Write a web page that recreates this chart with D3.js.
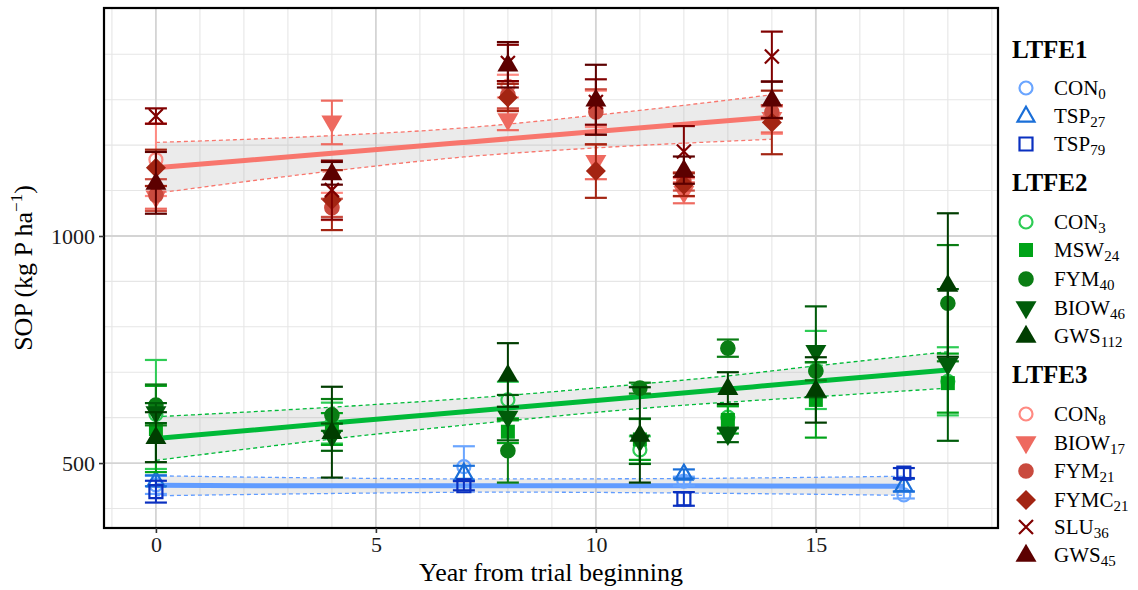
<!DOCTYPE html>
<html><head><meta charset="utf-8">
<script src="https://cdn.jsdelivr.net/npm/d3@7"></script>
<style>body{margin:0;background:#fff}svg{display:block}</style>
</head><body><svg id="c" width="1138" height="590"></svg>
<script>
// ---------------- DATA ----------------
const xTicks = [0, 5, 10, 15];
const yTicks = [500, 1000];
const groupTitles = ["LTFE1", "LTFE2", "LTFE3"];

// LTFE1
const ltfe1Years = [0, 7, 12, 17];
const con0Mean = [452, 492, 460, 430], con0Err = [20, 45, 10, 8];
const tsp27Mean = [461, 478, 476, 451], tsp27Err = [12, 16, 10, 14];
const tsp79Mean = [437, 450, 421, 478], tsp79Err = [24, 10, 15, 11];

// LTFE2
const ltfe2Years = [0, 4, 8, 11, 13, 15, 18];
const con3Mean = [607, 588, 639, 529, 601, 705, 680], con3Err = [120, 45, 40, 30, 25, 86, 75];
const msw24Mean = [575, 575, 569, 552, 595, 639, 676], msw24Err = [95, 35, 25, 45, 30, 83, 65];
const fym40Mean = [628, 606, 527, 665, 753, 702, 852], fym40Err = [45, 35, 70, 12, 19, 20, 128];
const biow46Mean = [610, 557, 600, 548, 562, 745, 716], biow46Err = [22, 30, 50, 50, 16, 100, 167];
const gws112Mean = [557, 568, 694, 562, 665, 661, 892], gws112Err = [55, 100, 70, 105, 35, 72, 158];

// LTFE3
const ltfe3Years = [0, 4, 8, 10, 12, 14];
const con8Mean = [1168, 1065, 1330, 1280, 1107, 1255], con8Err = [80, 30, 25, 40, 20, 30];
const biow17Mean = [1085, 1250, 1255, 1163, 1095, 1258], biow17Err = [25, 48, 22, 38, 23, 30];
const fym21Mean = [1090, 1062, 1311, 1273, 1120, 1273], fym21Err = [35, 20, 30, 50, 20, 15];
const fymc21Mean = [1150, 1079, 1305, 1143, 1113, 1250], fymc21Err = [40, 66, 30, 59, 25, 70];
const slu36Mean = [1264, 1101, 1381, 1295, 1186, 1395], slu36Err = [17, 65, 40, 50, 56, 55];
const gws45Mean = [1117, 1138, 1377, 1300, 1145, 1300], gws45Err = [68, 25, 50, 77, 30, 40];

// fitted trends with confidence band
const fit1Years = [0, 4, 8, 12, 17];
const fit1Line = [451, 450, 450, 450, 449];
const fit1Lo = [428, 433, 436, 434, 429];
const fit1Hi = [472, 467, 465, 466, 471];

const fit2Years = [0, 4, 8, 11, 13, 15, 18];
const fit2Line = [554, 588, 621, 646, 663, 680, 705];
const fit2Lo = [506, 553, 593, 620, 634, 646, 665];
const fit2Hi = [602, 623, 649, 674, 692, 714, 745];

const fit3Years = [0, 4, 7, 10, 14];
const fit3Line = [1150, 1182, 1206, 1230, 1262];
const fit3Lo = [1094, 1143, 1174, 1194, 1213];
const fit3Hi = [1206, 1221, 1238, 1266, 1311];

// ---------------- TABLES ----------------
const treatments = [
  {g:0, name:"CON", sub:"0", shape:"circleOpen", color:"#6aa5ff", years:ltfe1Years, mean:con0Mean, err:con0Err},
  {g:0, name:"TSP", sub:"27", shape:"triOpen", color:"#1a6fd8", years:ltfe1Years, mean:tsp27Mean, err:tsp27Err},
  {g:0, name:"TSP", sub:"79", shape:"squareOpen", color:"#0a30c0", years:ltfe1Years, mean:tsp79Mean, err:tsp79Err},
  {g:1, name:"CON", sub:"3", shape:"circleOpen", color:"#2ecc55", years:ltfe2Years, mean:con3Mean, err:con3Err},
  {g:1, name:"MSW", sub:"24", shape:"square", color:"#00a318", years:ltfe2Years, mean:msw24Mean, err:msw24Err},
  {g:1, name:"FYM", sub:"40", shape:"circle", color:"#0a7d14", years:ltfe2Years, mean:fym40Mean, err:fym40Err},
  {g:1, name:"BIOW", sub:"46", shape:"triDown", color:"#005c0a", years:ltfe2Years, mean:biow46Mean, err:biow46Err},
  {g:1, name:"GWS", sub:"112", shape:"triUp", color:"#003d00", years:ltfe2Years, mean:gws112Mean, err:gws112Err},
  {g:2, name:"CON", sub:"8", shape:"circleOpen", color:"#ff8a82", years:ltfe3Years, mean:con8Mean, err:con8Err},
  {g:2, name:"BIOW", sub:"17", shape:"triDown", color:"#ee6a60", years:ltfe3Years, mean:biow17Mean, err:biow17Err},
  {g:2, name:"FYM", sub:"21", shape:"circle", color:"#c94a3e", years:ltfe3Years, mean:fym21Mean, err:fym21Err},
  {g:2, name:"FYMC", sub:"21", shape:"diamond", color:"#a32412", years:ltfe3Years, mean:fymc21Mean, err:fymc21Err},
  {g:2, name:"SLU", sub:"36", shape:"cross", color:"#800000", years:ltfe3Years, mean:slu36Mean, err:slu36Err},
  {g:2, name:"GWS", sub:"45", shape:"triUp", color:"#5c0000", years:ltfe3Years, mean:gws45Mean, err:gws45Err}
];
const fits = [
  {color:"#619CFF", years:fit1Years, line:fit1Line, lo:fit1Lo, hi:fit1Hi},
  {color:"#00BA38", years:fit2Years, line:fit2Line, lo:fit2Lo, hi:fit2Hi},
  {color:"#F8766D", years:fit3Years, line:fit3Line, lo:fit3Lo, hi:fit3Hi}
];

// ---------------- LAYOUT ----------------
const L = 104, R = 998, T = 8, B = 528;
const FONT = "'Liberation Serif','Times New Roman',serif";
const svg = d3.select("#c");
const x = d3.scaleLinear().domain([-1.18, 19.14]).range([L, R]);
const y = d3.scaleLinear().domain([357, 1502]).range([B, T]);

// grid
const gGrid = svg.append("g");
const xMinor = d3.range(-1, 20).filter(v => !xTicks.includes(v));
const yMinor = d3.range(400, 1500, 100).filter(v => !yTicks.includes(v));
gGrid.selectAll(".xm").data(xMinor).join("line")
  .attr("x1", d => x(d)).attr("x2", d => x(d)).attr("y1", T).attr("y2", B)
  .attr("stroke", "#e6e6e6").attr("stroke-width", 1.1);
gGrid.selectAll(".ym").data(yMinor).join("line")
  .attr("x1", L).attr("x2", R).attr("y1", d => y(d)).attr("y2", d => y(d))
  .attr("stroke", "#e6e6e6").attr("stroke-width", 1.1);
gGrid.selectAll(".xM").data(xTicks).join("line")
  .attr("x1", d => x(d)).attr("x2", d => x(d)).attr("y1", T).attr("y2", B)
  .attr("stroke", "#d4d4d4").attr("stroke-width", 1.8);
gGrid.selectAll(".yM").data(yTicks).join("line")
  .attr("x1", L).attr("x2", R).attr("y1", d => y(d)).attr("y2", d => y(d))
  .attr("stroke", "#d4d4d4").attr("stroke-width", 1.8);

// fits
const gFit = svg.append("g");
fits.forEach(f => {
  const pts = f.years.map((yr, i) => ({yr, line: f.line[i], lo: f.lo[i], hi: f.hi[i]}));
  const area = d3.area().curve(d3.curveMonotoneX).x(d => x(d.yr)).y0(d => y(d.lo)).y1(d => y(d.hi));
  gFit.append("path").attr("d", area(pts)).attr("fill", "#999").attr("fill-opacity", 0.2);
  ["lo", "hi"].forEach(k => {
    gFit.append("path")
      .attr("d", d3.line().curve(d3.curveMonotoneX).x(d => x(d.yr)).y(d => y(d[k]))(pts))
      .attr("fill", "none").attr("stroke", f.color).attr("stroke-width", 1.3)
      .attr("stroke-dasharray", "4,3");
  });
});

// shape generator
function shapePath(s) {
  switch (s) {
    case "circleOpen": return d3.arc()({innerRadius:0, outerRadius:6.5, startAngle:0, endAngle:2*Math.PI});
    case "circle": return d3.arc()({innerRadius:0, outerRadius:7.8, startAngle:0, endAngle:2*Math.PI});
    case "triOpen": { const w = 17, h = 15; return `M0,${-h*0.62}L${w/2},${h*0.38}L${-w/2},${h*0.38}Z`; }
    case "triUp": { const w = 21, h = 18; return `M0,${-h*0.62}L${w/2},${h*0.38}L${-w/2},${h*0.38}Z`; }
    case "triDown": { const w = 21, h = 18; return `M0,${h*0.62}L${w/2},${-h*0.38}L${-w/2},${-h*0.38}Z`; }
    case "squareOpen": return "M-6.5,-6.5H6.5V6.5H-6.5Z";
    case "square": return "M-7,-7H7V7H-7Z";
    case "diamond": return "M0,-10L10,0L0,10L-10,0Z";
    case "cross": return "M-7,-7L7,7M7,-7L-7,7";
  }
}
function styleShape(sel, t) {
  const open = t.shape === "circleOpen" || t.shape === "triOpen" || t.shape === "squareOpen" || t.shape === "cross";
  sel.attr("d", shapePath(t.shape))
    .attr("fill", open ? "none" : t.color)
    .attr("stroke", open ? t.color : "none")
    .attr("stroke-width", open ? 2.2 : 0);
}

// fitted lines
fits.forEach(f => {
  const pts = f.years.map((yr, i) => ({yr, v: f.line[i]}));
  gFit.append("path")
    .attr("d", d3.line().curve(d3.curveMonotoneX).x(d => x(d.yr)).y(d => y(d.v))(pts))
    .attr("fill", "none").attr("stroke", f.color).attr("stroke-width", 5);
});

// error bars and points
const gPts = svg.append("g");
const capHalf = x(0.25) - x(0);
treatments.forEach(t => {
  const rows = t.years.map((yr, i) => ({yr, m: t.mean[i], e: t.err[i]}));
  const g = gPts.append("g");
  g.selectAll(".v").data(rows).join("line")
    .attr("x1", d => x(d.yr)).attr("x2", d => x(d.yr))
    .attr("y1", d => y(d.m - d.e)).attr("y2", d => y(d.m + d.e))
    .attr("stroke", t.color).attr("stroke-width", 2);
  g.selectAll(".ct").data(rows).join("line")
    .attr("x1", d => x(d.yr) - capHalf).attr("x2", d => x(d.yr) + capHalf)
    .attr("y1", d => y(d.m + d.e)).attr("y2", d => y(d.m + d.e))
    .attr("stroke", t.color).attr("stroke-width", 2.2);
  g.selectAll(".cb").data(rows).join("line")
    .attr("x1", d => x(d.yr) - capHalf).attr("x2", d => x(d.yr) + capHalf)
    .attr("y1", d => y(d.m - d.e)).attr("y2", d => y(d.m - d.e))
    .attr("stroke", t.color).attr("stroke-width", 2.2);
  g.selectAll(".p").data(rows).join("path")
    .attr("transform", d => `translate(${x(d.yr)},${y(d.m)})`)
    .call(sel => styleShape(sel, t));
});

// panel border
svg.append("rect").attr("x", L).attr("y", T).attr("width", R - L).attr("height", B - T)
  .attr("fill", "none").attr("stroke", "#000").attr("stroke-width", 2.2);

// axes
const xAxis = svg.append("g").attr("transform", `translate(0,${B})`)
  .call(d3.axisBottom(x).tickValues(xTicks).tickFormat(d3.format("d")).tickSize(5).tickPadding(3));
const yAxis = svg.append("g").attr("transform", `translate(${L},0)`)
  .call(d3.axisLeft(y).tickValues(yTicks).tickFormat(d3.format("d")).tickSize(5).tickPadding(4));
[xAxis, yAxis].forEach(a => {
  a.select(".domain").remove();
  a.selectAll(".tick line").attr("stroke", "#333").attr("stroke-width", 1.6);
  a.selectAll("text").attr("fill", "#1a1a1a").style("font-family", FONT).style("font-size", "22px");
});

// axis titles
svg.append("text").attr("x", (L + R) / 2).attr("y", 581).attr("text-anchor", "middle")
  .style("font-family", FONT).style("font-size", "26px").attr("fill", "#000")
  .text("Year from trial beginning");
const yt = svg.append("text").attr("transform", `translate(32,${(T + B) / 2}) rotate(-90)`)
  .attr("text-anchor", "middle").style("font-family", FONT).style("font-size", "26px").attr("fill", "#000");
yt.append("tspan").text("SOP (kg P ha");
yt.append("tspan").attr("dy", -10).style("font-size", "17px").text("\u22121");
yt.append("tspan").attr("dy", 10).text(")");

// legend
const titleY = [58, 191, 383];
const itemY = [[88, 116, 144], [222, 250, 279, 308, 336], [414, 443, 471, 500, 527, 555]];
const gLeg = svg.append("g");
groupTitles.forEach((tt, gi) => {
  gLeg.append("text").attr("x", 1012).attr("y", titleY[gi])
    .style("font-family", FONT).style("font-size", "25px").style("font-weight", "bold").attr("fill", "#000").text(tt);
  treatments.filter(t => t.g === gi).forEach((t, i) => {
    const cy = itemY[gi][i];
    gLeg.append("path").attr("transform", `translate(1026,${cy})`).call(sel => styleShape(sel, t));
    const tx = gLeg.append("text").attr("x", 1054).attr("y", cy + 7)
      .style("font-family", FONT).style("font-size", "21px").attr("fill", "#000");
    tx.append("tspan").text(t.name);
    tx.append("tspan").attr("dy", 4).style("font-size", "15px").text(t.sub);
  });
});
</script></body></html>
